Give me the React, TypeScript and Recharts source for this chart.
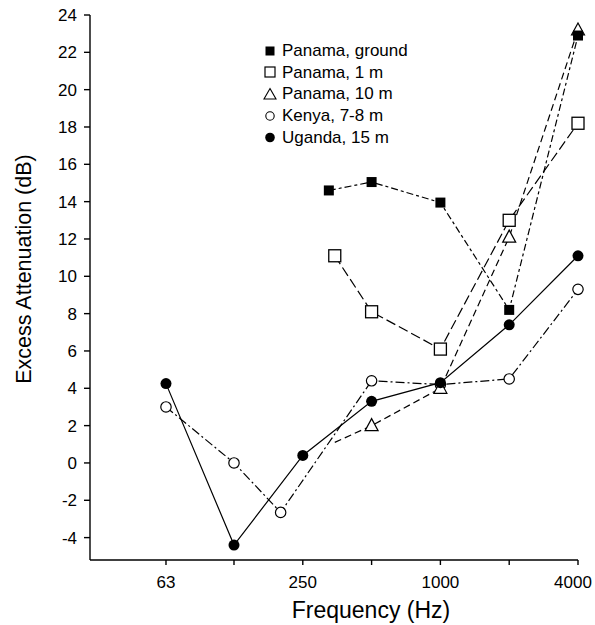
import React from "react";
import { LineChart, Line, XAxis, YAxis, Label } from "recharts";

const FONT = '"Liberation Sans", Arial, Helvetica, sans-serif';

// frequencies (Hz) and excess attenuation (dB)
const groundFreq = [325, 500, 1000, 2000, 4000];
const groundDb = [14.6, 15.05, 13.95, 8.2, 22.9];

const oneMFreq = [345, 500, 1000, 2000, 4000];
const oneMDb = [11.1, 8.1, 6.1, 13.0, 18.2];

const tenMFreq = [345, 500, 1000, 2000, 4000];
const tenMDb = [1.1, 2.0, 4.0, 12.1, 23.2];

const kenyaFreq = [63, 125, 200, 500, 1000, 2000, 4000];
const kenyaDb = [3.0, 0.0, -2.65, 4.4, 4.2, 4.5, 9.3];

const ugandaFreq = [63, 125, 250, 500, 1000, 2000, 4000];
const ugandaDb = [4.25, -4.4, 0.4, 3.3, 4.3, 7.4, 11.1];

const xTicks = [63, 125, 250, 500, 1000, 2000, 4000];
const xLabelled = [63, 250, 1000, 4000];
const yTicks = [-4, -2, 0, 2, 4, 6, 8, 10, 12, 14, 16, 18, 20, 22, 24];

const legendNames = [
  "Panama, ground",
  "Panama, 1 m",
  "Panama, 10 m",
  "Kenya, 7-8 m",
  "Uganda, 15 m",
];

const toRows = (f: number[], v: number[]) => f.map((x, i) => ({ f: x, db: v[i] }));

const filledSquare = (p: any) => (
  <rect key={p.index} x={p.cx - 5} y={p.cy - 5} width={10} height={10} fill="#000" />
);
const openSquare = (p: any) => (
  <rect
    key={p.index}
    x={p.cx - 6}
    y={p.cy - 6}
    width={12}
    height={12}
    fill="#fff"
    stroke="#000"
    strokeWidth={1.3}
  />
);
const openTriangle = (p: any) =>
  p.index === 0 ? (
    <g key={p.index} />
  ) : (
    <path
      key={p.index}
      d={`M${p.cx},${p.cy - 7} L${p.cx + 6.5},${p.cy + 5} L${p.cx - 6.5},${p.cy + 5} Z`}
      fill="#fff"
      stroke="#000"
      strokeWidth={1.2}
    />
  );
const openCircle = (p: any) => (
  <circle key={p.index} cx={p.cx} cy={p.cy} r={5.2} fill="#fff" stroke="#000" strokeWidth={1.2} />
);
const filledCircle = (p: any) => (
  <circle key={p.index} cx={p.cx} cy={p.cy} r={5.5} fill="#000" />
);

// x tick: only octave labels shown; the last one is nudged in so it stays on the page
const FreqTick = (p: any) => {
  const v = p.payload.value;
  if (!xLabelled.includes(v)) return <g />;
  const shift = v === 4000 ? -5 : 0;
  return (
    <text
      x={p.x + shift}
      y={p.y}
      dy="0.71em"
      textAnchor="middle"
      fontSize={17}
      fontFamily={FONT}
      fill="#000"
    >
      {v}
    </text>
  );
};

const legendIcons = [
  <rect x={2.5} y={2.5} width={9} height={9} fill="#000" />,
  <rect x={2} y={2} width={10} height={10} fill="#fff" stroke="#000" strokeWidth={1.2} />,
  <path d="M7,1.5 L13,12 L1,12 Z" fill="#fff" stroke="#000" strokeWidth={1.1} />,
  <circle cx={7} cy={7} r={4.2} fill="#fff" stroke="#000" strokeWidth={1.1} />,
  <circle cx={7} cy={7.5} r={4.8} fill="#000" />,
];

const App = () => {
  return (
    <div style={{ position: "absolute", left: 0, top: 0, width: 595, height: 625, background: "#fff" }}>
      <LineChart
        width={595}
        height={625}
        margin={{ top: 15, right: 17, bottom: 0, left: 0 }}
      >
        <XAxis
          type="number"
          dataKey="f"
          scale="log"
          domain={[29.3, 4000]}
          ticks={xTicks}
          interval={0}
          height={65}
          tickSize={5}
          tickMargin={11}
          stroke="#000"
          strokeWidth={1.4}
          tick={<FreqTick />}
        >
          <Label
            content={() => (
              <text x={371} y={618} textAnchor="middle" fontSize={23} fontFamily={FONT} fill="#000">
                Frequency (Hz)
              </text>
            )}
          />
        </XAxis>
        <YAxis
          type="number"
          domain={[-5.2, 24]}
          ticks={yTicks}
          interval={0}
          width={90}
          tickSize={6}
          tickMargin={7}
          stroke="#000"
          strokeWidth={1.4}
          tick={{ fill: "#000", fontSize: 17, fontFamily: FONT }}
        >
          <Label
            content={() => (
              <text
                x={31}
                y={269}
                transform="rotate(-90 31 269)"
                textAnchor="middle"
                fontSize={21.5}
                fontFamily={FONT}
                fill="#000"
              >
                Excess Attenuation (dB)
              </text>
            )}
          />
        </YAxis>
        <Line
          data={toRows(kenyaFreq, kenyaDb)}
          dataKey="db"
          stroke="#000"
          strokeWidth={1.2}
          strokeDasharray="9 3 2 3"
          dot={openCircle}
          isAnimationActive={false}
        />
        <Line
          data={toRows(tenMFreq, tenMDb)}
          dataKey="db"
          stroke="#000"
          strokeWidth={1.2}
          strokeDasharray="7 4"
          dot={openTriangle}
          isAnimationActive={false}
        />
        <Line
          data={toRows(oneMFreq, oneMDb)}
          dataKey="db"
          stroke="#000"
          strokeWidth={1.2}
          strokeDasharray="10 4"
          dot={openSquare}
          isAnimationActive={false}
        />
        <Line
          data={toRows(groundFreq, groundDb)}
          dataKey="db"
          stroke="#000"
          strokeWidth={1.2}
          strokeDasharray="7 3 3 3"
          dot={filledSquare}
          isAnimationActive={false}
        />
        <Line
          data={toRows(ugandaFreq, ugandaDb)}
          dataKey="db"
          stroke="#000"
          strokeWidth={1.2}
          dot={filledCircle}
          isAnimationActive={false}
        />
      </LineChart>
      <div
        style={{
          position: "absolute",
          left: 263,
          top: 40,
          fontFamily: FONT,
          fontSize: 17,
          lineHeight: "21.65px",
          color: "#000",
        }}
      >
        {legendNames.map((name, i) => (
          <div key={name} style={{ display: "flex", alignItems: "center", whiteSpace: "nowrap" }}>
            <svg width={14} height={14} style={{ marginRight: 5 }}>
              {legendIcons[i]}
            </svg>
            <span>{name}</span>
          </div>
        ))}
      </div>
    </div>
  );
};

export default App;
